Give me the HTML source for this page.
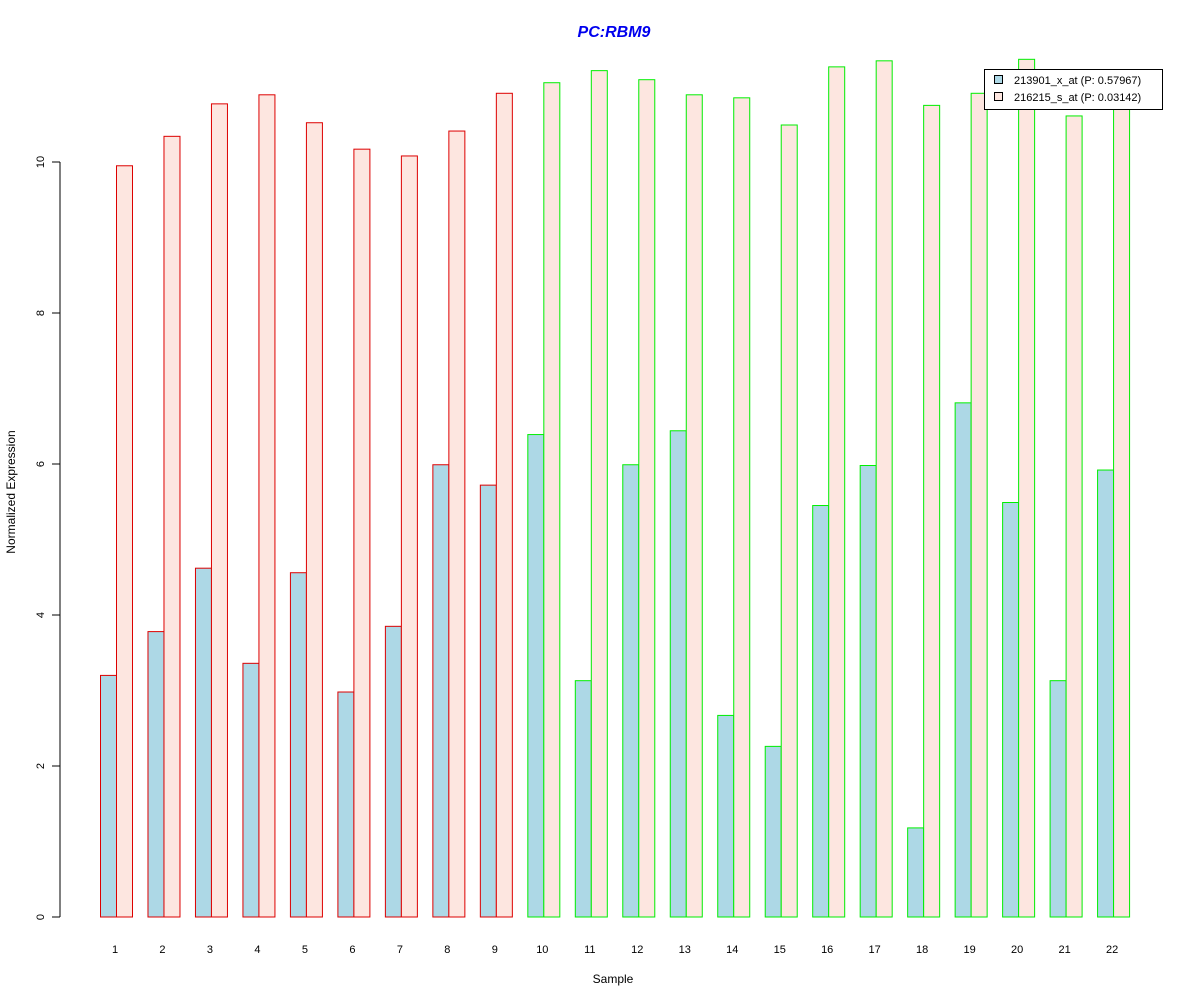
<!DOCTYPE html>
<html><head><meta charset="utf-8"><style>
body{margin:0;background:#fff;}
svg text{font-family:"Liberation Sans",sans-serif;}
</style></head><body>
<svg id="chart" width="1200" height="1000" xmlns="http://www.w3.org/2000/svg">
<rect width="1200" height="1000" fill="#fff"/>
<text x="614" y="37" text-anchor="middle" font-size="16" font-weight="bold" font-style="italic" fill="#0000ee">PC:RBM9</text>
<text x="613" y="983" text-anchor="middle" font-size="12">Sample</text>
<text transform="translate(15,492) rotate(-90)" text-anchor="middle" font-size="12">Normalized Expression</text>
<line x1="60" y1="162" x2="60" y2="917" stroke="#000"/>
<g id="yticks"></g>
<g id="bars"></g>
<g id="xlabels"></g>
<g>
<rect x="984.5" y="69.5" width="178" height="40" fill="#fff" stroke="#000"/>
<rect x="994.5" y="75.5" width="8" height="8" fill="#add8e6" stroke="#000"/>
<text x="1014" y="84" font-size="11">213901_x_at (P: 0.57967)</text>
<rect x="994.5" y="92.5" width="8" height="8" fill="#fde6e0" stroke="#000"/>
<text x="1014" y="101" font-size="11">216215_s_at (P: 0.03142)</text>
</g>
</svg>
<script>
const samples=["1","2","3","4","5","6","7","8","9","10","11","12","13","14","15","16","17","18","19","20","21","22"];
const seriesA=[3.2,3.78,4.62,3.36,4.56,2.98,3.85,5.99,5.72,6.39,3.13,5.99,6.44,2.67,2.26,5.45,5.98,1.18,6.81,5.49,3.13,5.92];
const seriesB=[9.95,10.34,10.77,10.89,10.52,10.17,10.08,10.41,10.91,11.05,11.21,11.09,10.89,10.85,10.49,11.26,11.34,10.75,10.91,11.36,10.61,10.7];
const groups=[0,0,0,0,0,0,0,0,0,1,1,1,1,1,1,1,1,1,1,1,1,1];
const yTicks=[0,2,4,6,8,10];
const NS="http://www.w3.org/2000/svg";
function y(v){return 917-v*75.5;}
function x(i){return 100+i*47.48;}
const yt=document.getElementById('yticks');
yTicks.forEach(t=>{
 const l=document.createElementNS(NS,'line');
 
 
 l.setAttribute('x1',52);l.setAttribute('x2',60);l.setAttribute('y1',y(t));l.setAttribute('y2',y(t));l.setAttribute('stroke','#000');
 yt.appendChild(l);
 const tx=document.createElementNS(NS,'text');
 
 
 tx.setAttribute('transform','translate(44,'+y(t)+') rotate(-90)');
 tx.setAttribute('text-anchor','middle');tx.setAttribute('font-size','11');
 tx.textContent=t;yt.appendChild(tx);
});
const bg=document.getElementById('bars'),xl=document.getElementById('xlabels');
samples.forEach((s,i)=>{
 const stroke=groups[i]?'#00ee00':'#dd0000';
 [[seriesA[i],'#add8e6',0],[seriesB[i],'#fde6e0',16]].forEach((d,k)=>{
  const r=document.createElementNS(NS,'rect');
  
  
  r.setAttribute('x',x(i)+d[2]+0.5);r.setAttribute('y',y(d[0]));
  r.setAttribute('width',16);r.setAttribute('height',917-y(d[0]));
  r.setAttribute('fill',d[1]);r.setAttribute('stroke',stroke);
  bg.appendChild(r);
 });
 const t=document.createElementNS(NS,'text');
 
 
 t.setAttribute('x',x(i)+15);t.setAttribute('y',953);t.setAttribute('text-anchor','middle');t.setAttribute('font-size','11');
 t.textContent=s;xl.appendChild(t);
});
</script>
</body></html>
